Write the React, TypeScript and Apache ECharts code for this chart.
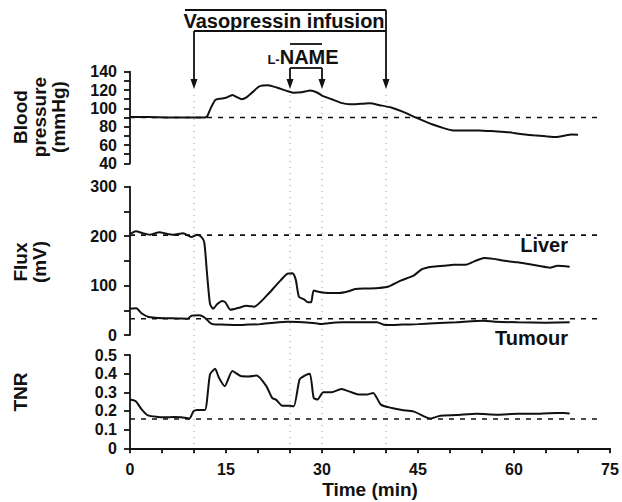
import React, { useEffect, useRef } from "react";
import * as echarts from "echarts";

// ---- axis definitions ----
const timeTicks = [0, 15, 30, 45, 60, 75];
const bpTicks = [40, 60, 80, 100, 120, 140];
const fluxTicks = [0, 100, 200, 300];
const tnrTicks = [0, 0.1, 0.2, 0.3, 0.4, 0.5];

// ---- event times (min) ----
const vasopressin = [10, 40];
const lname = [25, 30];

// ---- blood pressure (mmHg) ----
const bpTime = [0, 3, 6, 9, 11, 12, 12.6, 13.3, 14, 15, 16, 16.8, 17.4, 18.2, 19.2, 20.2, 21.6, 23, 24.7, 25.6, 26.8, 28.2, 29.3, 30, 31.5, 33, 34.3, 36, 37.5, 39, 40.8, 42.6, 44.8, 47.3, 49, 50.5, 53, 54.5, 57, 59.2, 61, 63, 65, 66.6, 68, 69, 70];
const bpValue = [90.5, 90.5, 90, 90, 90, 91, 100, 109, 110.5, 111.5, 114.5, 112, 110, 112, 118, 124, 125.3, 122.5, 118.6, 117, 117.5, 119.5, 117, 114, 110, 106, 104.5, 105, 105.5, 103.5, 101, 96.5, 89.6, 82.4, 78.5, 76, 75.8, 76, 75, 74, 72, 70.6, 69.5, 68.8, 70.5, 71.5, 71.3];
const bpBaseline = 90;

// ---- liver flux (mV) ----
const liverTime = [0, 0.9, 2, 3.1, 4.6, 5.7, 6.8, 8.3, 9.6, 10.5, 11.1, 11.6, 12.0, 12.5, 13.0, 13.6, 14.4, 14.9, 15.7, 17, 18.2, 19.4, 20.5, 21.6, 23.5, 24.6, 25.4, 25.9, 26.4, 27.2, 27.8, 28.3, 28.7, 29.6, 31, 32.7, 34, 35.2, 37, 38.9, 40.4, 42.3, 44.3, 45.6, 47.2, 49, 50.6, 52.5, 53.8, 55.3, 56.8, 58.5, 60.6, 62, 63.8, 65.6, 66.8, 68.7];
const liverValue = [204, 210, 206, 203, 208, 205, 203, 206, 198, 203, 199, 188, 130, 63, 53, 62, 69, 66, 51, 55, 59, 57, 68, 83, 110, 124, 125, 112, 77, 72, 66, 66, 90, 87, 85, 85, 88, 93, 94, 95, 98, 110, 120, 133, 138, 140, 142, 142, 149, 156, 154, 150, 147, 144, 140, 136, 140, 138];
const liverBaseline = 202;

// ---- tumour flux (mV) ----
const tumourTime = [0, 1, 1.8, 2.8, 4, 5.6, 7.5, 9, 9.6, 10.8, 11.6, 12.4, 12.9, 14.2, 16.7, 18.5, 20.4, 22.5, 24.7, 27, 29, 29.8, 31, 33.3, 36, 38.6, 39.9, 42.6, 45, 47.5, 51, 55.3, 57, 60.6, 65, 68.7];
const tumourValue = [53, 54, 44, 37, 35, 34, 33.5, 33, 39, 40, 36, 26, 22, 21, 20, 21, 22, 25, 27, 26, 24, 22, 24, 25.6, 26, 25.6, 20, 21, 22, 24, 26, 29, 27, 25.6, 25, 25.6];
const tumourBaseline = 33;

// ---- tumour / normal ratio ----
const tnrTime = [0, 0.9, 1.85, 2.8, 4.3, 5.5, 6.8, 8, 9.3, 9.9, 10.5, 11.7, 12.5, 13.3, 13.9, 14.8, 16, 17.3, 18.5, 19.8, 21.3, 22.2, 22.8, 23.8, 25, 25.6, 26.5, 27.3, 28.1, 28.7, 29.3, 30.2, 31.5, 33, 34.6, 35.5, 37, 38, 39.2, 40.9, 42.5, 44.3, 46.2, 47, 48.5, 51, 54.2, 57.4, 60.6, 63, 65.5, 67.9, 68.7];
const tnrValue = [0.261, 0.252, 0.207, 0.176, 0.168, 0.166, 0.168, 0.166, 0.16, 0.198, 0.205, 0.205, 0.396, 0.426, 0.378, 0.333, 0.414, 0.387, 0.385, 0.39, 0.333, 0.27, 0.261, 0.228, 0.228, 0.225, 0.369, 0.39, 0.4, 0.27, 0.262, 0.3, 0.3, 0.318, 0.3, 0.29, 0.288, 0.297, 0.234, 0.216, 0.205, 0.198, 0.167, 0.16, 0.175, 0.178, 0.185, 0.18, 0.185, 0.185, 0.188, 0.189, 0.186];
const tnrBaseline = 0.157;

const baselineEnd = 73;

const FONT = "Liberation Sans, Arial, Helvetica, sans-serif";
const INK = "#111";

const zip = (a: number[], b: number[]) => a.map((t, i) => [t, b[i]]);

const tickStep = (ticks: number[]) => ticks[1] - ticks[0];

function yAxis(gridIndex: number, ticks: number[], minorSplit: number) {
  return {
    type: "value",
    gridIndex,
    min: ticks[0],
    max: ticks[ticks.length - 1],
    interval: tickStep(ticks),
    axisLine: { show: true, lineStyle: { color: INK, width: 1.8 } },
    axisTick: { show: true, inside: false, length: 6, lineStyle: { color: INK, width: 1.8 } },
    minorTick: { show: minorSplit > 1, splitNumber: minorSplit, length: 6, lineStyle: { color: INK, width: 1.8 } },
    splitLine: { show: false },
    axisLabel: { color: INK, fontFamily: FONT, fontWeight: "bold", fontSize: 16, margin: 13 },
  };
}

function xAxis(gridIndex: number, visible: boolean) {
  return {
    type: "value",
    gridIndex,
    min: timeTicks[0],
    max: timeTicks[timeTicks.length - 1],
    interval: tickStep(timeTicks),
    show: visible,
    name: visible ? "Time (min)" : "",
    nameLocation: "middle",
    nameGap: 32,
    nameTextStyle: { color: INK, fontFamily: FONT, fontWeight: "bold", fontSize: 19 },
    axisLine: { show: visible, onZero: false, lineStyle: { color: INK, width: 1.8 } },
    axisTick: { show: visible, length: 5, lineStyle: { color: INK, width: 1.8 } },
    minorTick: { show: visible, splitNumber: 3, length: 5, lineStyle: { color: INK, width: 1.8 } },
    splitLine: { show: false },
    axisLabel: { show: visible, color: INK, fontFamily: FONT, fontWeight: "bold", fontSize: 16, margin: 13 },
  };
}

function curve(name: string, idx: number, data: number[][]) {
  return {
    name,
    type: "line",
    xAxisIndex: idx,
    yAxisIndex: idx,
    data,
    showSymbol: false,
    symbol: "none",
    smooth: 0.2,
    lineStyle: { color: INK, width: 2 },
    z: 3,
  };
}

function baseline(name: string, idx: number, v: number) {
  return {
    name,
    type: "line",
    xAxisIndex: idx,
    yAxisIndex: idx,
    data: [[0, v], [baselineEnd, v]],
    showSymbol: false,
    symbol: "none",
    lineStyle: { color: INK, width: 1.6, type: [5, 6] },
    z: 2,
  };
}

export default function App() {
  const ref = useRef<HTMLDivElement>(null);
  useEffect(() => {
    if (!ref.current) return;
    const chart = echarts.init(ref.current, undefined, { renderer: "svg" });
    const option: any = {
      animation: false,
      backgroundColor: "#fff",
      grid: [
        { left: 130, right: 12, top: 71.7, height: 91.7, outerBoundsMode: "none" },
        { left: 130, right: 12, top: 186.7, height: 148.3, outerBoundsMode: "none" },
        { left: 130, right: 12, top: 355, height: 93.3, outerBoundsMode: "none" },
      ],
      xAxis: [xAxis(0, false), xAxis(1, false), xAxis(2, true)],
      yAxis: [yAxis(0, bpTicks, 2), yAxis(1, fluxTicks, 2), yAxis(2, tnrTicks, 1)],
      series: [
        baseline("BP baseline", 0, bpBaseline),
        curve("Blood pressure", 0, zip(bpTime, bpValue)),
        baseline("Liver baseline", 1, liverBaseline),
        baseline("Tumour baseline", 1, tumourBaseline),
        curve("Liver", 1, zip(liverTime, liverValue)),
        curve("Tumour", 1, zip(tumourTime, tumourValue)),
        baseline("TNR baseline", 2, tnrBaseline),
        curve("TNR", 2, zip(tnrTime, tnrValue)),
      ],
    };
    chart.setOption(option);

    const px = (t: number) => chart.convertToPixel({ xAxisIndex: 2 }, t) as number;
    const fluxY = (v: number) => chart.convertToPixel({ yAxisIndex: 1 }, v) as number;

    const lineStyle = { stroke: INK, lineWidth: 1.8 };
    const arrowTipY = 89;
    const arrowHead = (x: number) => ({
      type: "polygon",
      shape: { points: [[x - 3.5, arrowTipY - 10], [x + 3.5, arrowTipY - 10], [x, arrowTipY]] },
      style: { fill: INK },
    });
    const seg = (x1: number, y1: number, x2: number, y2: number) => ({
      type: "line",
      shape: { x1, y1, x2, y2 },
      style: lineStyle,
    });
    const text = (t: string, x: number, y: number, size: number, extra: any = {}) => ({
      type: "text",
      x,
      y,
      style: {
        text: t,
        fill: INK,
        font: `bold ${size}px ${FONT}`,
        align: "center",
        verticalAlign: "middle",
        ...extra,
      },
    });
    const vtext = (t: string, x: number, y: number) => ({
      ...text(t, x, y, 19),
      rotation: Math.PI / 2,
    });

    const vx0 = px(vasopressin[0]);
    const vx1 = px(vasopressin[1]);
    const lx0 = px(lname[0]);
    const lx1 = px(lname[1]);

    const graphic: any[] = [];
    // dotted event lines
    [...vasopressin, ...lname].forEach((t) => {
      const x = px(t);
      graphic.push({
        type: "line",
        shape: { x1: x, y1: 95, x2: x, y2: 446 },
        style: { stroke: "#9a9a9a", lineWidth: 1, lineDash: [1, 5] },
        z: 1,
      });
    });
    // vasopressin bracket
    graphic.push(seg(vx0 - 9, 10, vx1, 10));
    graphic.push(seg(vx0, 31, vx1, 31));
    graphic.push(seg(vx0, 31, vx0, arrowTipY - 8));
    graphic.push(seg(vx1, 10, vx1, arrowTipY - 8));
    graphic.push(arrowHead(vx0));
    graphic.push(arrowHead(vx1));
    graphic.push(text("Vasopressin infusion", (vx0 + vx1) / 2 - 6, 21, 20));
    // L-NAME bracket
    graphic.push(seg(lx0, 68, lx1, 68));
    graphic.push(seg(lx0, 68, lx0, arrowTipY - 8));
    graphic.push(seg(lx1, 68, lx1, arrowTipY - 8));
    graphic.push(arrowHead(lx0));
    graphic.push(arrowHead(lx1));
    graphic.push({
      type: "text",
      x: (lx0 + lx1) / 2 - 3,
      y: 57,
      style: {
        text: "{a|L-}{b|NAME}",
        align: "center",
        verticalAlign: "middle",
        rich: {
          a: { fontFamily: FONT, fontSize: 13, fontWeight: "bold", fill: INK, padding: [4, 0, 0, 0] },
          b: { fontFamily: FONT, fontSize: 20, fontWeight: "bold", fill: INK },
        },
      },
    });
    graphic.push(seg(lx0, 44, lx1, 44));
    // series labels
    graphic.push(text("Liver", 568, fluxY(182), 20, { align: "right" }));
    graphic.push(text("Tumour", 568, fluxY(-6), 20, { align: "right" }));
    // y-axis titles
    graphic.push(vtext("Blood", 20, 117));
    graphic.push(vtext("pressure", 39, 117));
    graphic.push(vtext("(mmHg)", 58, 117));
    graphic.push(vtext("Flux", 20, 262));
    graphic.push(vtext("(mV)", 39, 262));
    graphic.push(vtext("TNR", 20, 392));

    chart.setOption({ graphic });

    return () => chart.dispose();
  }, []);
  return (
    <div
      ref={ref}
      style={{ position: "absolute", left: 0, top: 0, width: 622, height: 502 }}
    />
  );
}
